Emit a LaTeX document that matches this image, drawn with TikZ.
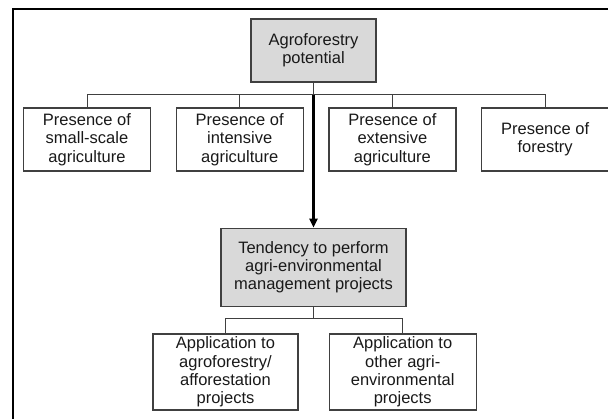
\documentclass[tikz,border=0pt]{standalone}
\usepackage{fontspec}
\setmainfont{Liberation Sans}
\usetikzlibrary{positioning,arrows.meta}
\definecolor{boxgray}{HTML}{D9D9D9}
\definecolor{edgegray}{HTML}{404040}

\begin{document}
\begin{tikzpicture}[x=1pt,y=1pt,
    box/.style={draw=edgegray,line width=1.2pt,align=center,inner sep=1.5pt,
      text=black!90,font=\fontsize{16.5}{18.4}\selectfont},
    keybox/.style={box,fill=boxgray},
    rowbox/.style={box,minimum width=127pt,minimum height=63pt},
    link/.style={draw=edgegray,line width=1pt},
    flow/.style={line width=2.4pt,-{Triangle[length=9pt,width=8pt]}}]
  \useasboundingbox (0,0) rectangle (608,-419);
  % frame
  \coordinate (fb) at (13,-420);
  \coordinate (fc) at (13,-9);
  \coordinate (fr) at (609,-9);
  \draw[line width=2.5pt] (fb) -- (fc) -- (fr);
  % top level
  \node[keybox,minimum width=125pt,minimum height=63pt] (pot) at (313.5,-50.5) {Agroforestry\\potential};
  \node[rowbox] (small) at (87,-139.5) {Presence of\\small-scale\\agriculture};
  \node[rowbox,right=24.5pt of small] (intens) {Presence of\\intensive\\agriculture};
  \node[rowbox,right=24.5pt of intens] (extens) {Presence of\\extensive\\agriculture};
  \node[rowbox,right=24.5pt of extens] (forest) {Presence of\\forestry};
  \coordinate (bus) at (pot.south |- 0,-95);
  \foreach \n in {small,intens,extens,forest}
    \draw[link] (pot.south) -- (bus) -| (\n.north);
  % tendency
  \node[keybox,minimum width=185pt,minimum height=78pt,below=145pt of pot] (tend) {Tendency to perform\\agri-environmental\\management projects};
  \draw[flow] (bus) -- (tend.north);
  \node[box,minimum width=145pt,minimum height=76pt] (affor) at (225.5,-372) {Application to\\agroforestry/\\afforestation\\projects};
  \node[box,minimum width=147pt,minimum height=76pt,right=30pt of affor] (other) {Application to\\other agri-\\environmental\\projects};
  \coordinate (bus2) at (tend.south |- 0,-319);
  \foreach \n in {affor,other}
    \draw[link] (tend.south) -- (bus2) -| (\n.north);
\end{tikzpicture}
\end{document}
